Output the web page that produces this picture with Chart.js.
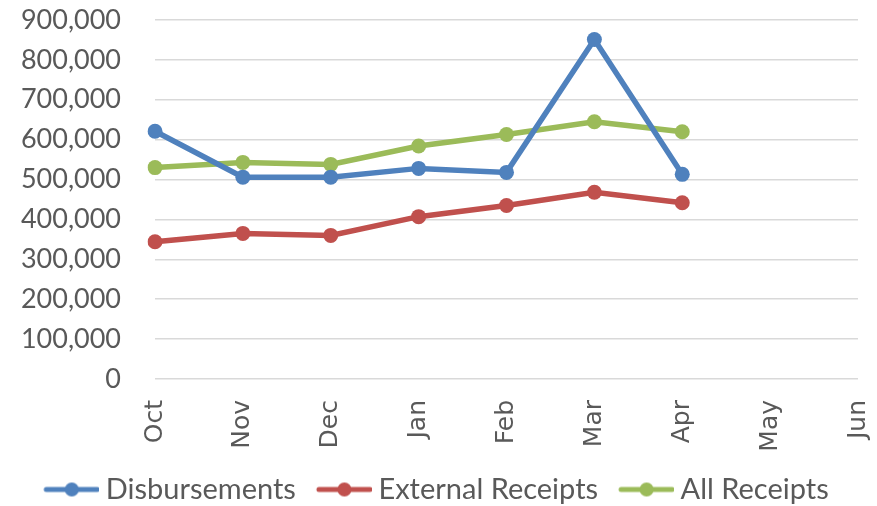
<!DOCTYPE html>
<html>
<head>
<meta charset="utf-8">
<script src="https://cdn.jsdelivr.net/npm/chart.js@4"></script>
<style>
html,body{margin:0;padding:0;background:#fff;}
#wrap{width:877px;height:506px;}
</style>
</head>
<body>
<div id="wrap"><canvas id="c" width="877" height="506"></canvas></div>
<script>
const categories = ["Oct","Nov","Dec","Jan","Feb","Mar","Apr","May","Jun"];
const disbursements = [621000, 506000, 506000, 528000, 518000, 851000, 513000, null, null];
const externalReceipts = [344000, 365000, 360000, 407000, 435000, 468000, 442000, null, null];
const allReceipts = [530000, 543000, 538000, 584000, 613000, 645000, 620000, null, null];
const seriesNames = ["Disbursements", "External Receipts", "All Receipts"];
const colors = ["#4F81BD", "#C0504D", "#9BBB59"];

function markerCanvas(color){
  const c = document.createElement('canvas');
  c.width = 64; c.height = 18;
  const g = c.getContext('2d');
  g.strokeStyle = color; g.lineWidth = 5; g.lineCap = 'round';
  g.beginPath(); g.moveTo(11, 9); g.lineTo(62, 9); g.stroke();
  g.fillStyle = color;
  g.beginPath(); g.arc(36.5, 9, 7, 0, Math.PI*2); g.fill();
  return c;
}
const markers = colors.map(markerCanvas);

const seriesData = [disbursements, externalReceipts, allReceipts];
const datasets = seriesNames.map((n, i) => ({
  label: n,
  data: seriesData[i],
  borderColor: colors[i],
  backgroundColor: colors[i],
  borderWidth: 5.5,
  pointRadius: 7.5,
  pointHoverRadius: 7.5,
  pointBorderWidth: 0,
  pointBackgroundColor: colors[i],
  tension: 0,
  spanGaps: false
}));

new Chart(document.getElementById('c'), {
  type: 'line',
  data: { labels: categories, datasets },
  options: {
    responsive: false,
    animation: false,
    events: [],
    layout: { padding: { top: 20, right: 19, left: 14, bottom: -8 } },
    plugins: {
      tooltip: { enabled: false },
      legend: {
        position: 'bottom',
        labels: {
          usePointStyle: true,
          pointStyleWidth: 48,
          padding: 20,
          color: '#595959',
          font: { family: 'Lato', size: 29 },
          generateLabels: (chart) => chart.data.datasets.map((d, i) => ({
            text: d.label,
            pointStyle: markers[i],
            fillStyle: colors[i],
            strokeStyle: colors[i],
            lineWidth: 0,
            fontColor: '#595959',
            datasetIndex: i
          }))
        }
      }
    },
    scales: {
      x: {
        offset: false,
        grid: { display: false, drawTicks: false },
        border: { display: false },
        ticks: {
          color: '#595959',
          font: { family: 'DejaVu Sans', size: 25 },
          minRotation: 90, maxRotation: 90,
          padding: 21,
          autoSkip: false
        },
        afterFit: (s) => { s.height = 76; s.paddingLeft = 0; s.paddingRight = 0; }
      },
      y: {
        min: 0, max: 900000,
        grid: { color: '#D9D9D9', lineWidth: 1.5, drawTicks: false },
        border: { display: false },
        ticks: {
          stepSize: 100000,
          color: '#595959',
          font: { family: 'Lato', size: 27 },
          padding: 34,
          callback: (v) => v.toLocaleString('en-US')
        },
        afterFit: (s) => { s.width = 141; s.paddingTop = 0; s.paddingBottom = 0; }
      }
    }
  }
});
</script>
</body>
</html>
